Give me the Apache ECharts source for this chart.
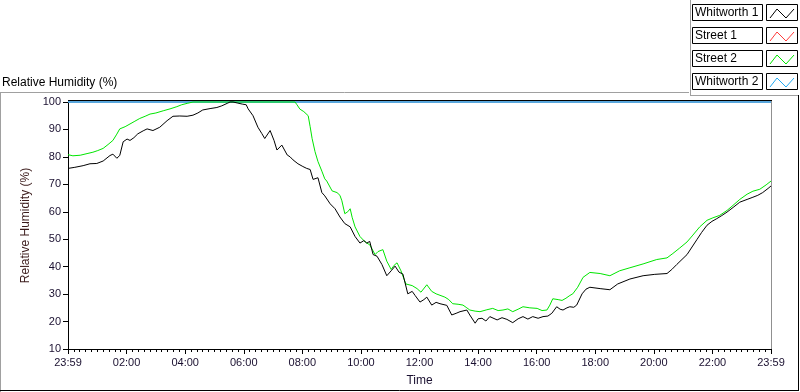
<!DOCTYPE html>
<html>
<head>
<meta charset="utf-8">
<script src="https://cdn.jsdelivr.net/npm/echarts@6/dist/echarts.min.js"></script>
<style>
    html, body { margin: 0; padding: 0; background: #fff; }
    #chart { width: 800px; height: 392px; }
</style>
</head>
<body>
<div id="chart"></div>
<script>
// 曲线名称和颜色
let seriesNames = ['Whitworth 1', 'Street 1', 'Street 2', 'Whitworth 2'];
let seriesColors = ['#000000', '#ff3b3b', '#00e600', '#22aaf2'];

// 时间: minutes after 23:59
let w1Minutes = [0, 14, 31, 45, 59, 72, 86, 92, 100, 106, 113, 121, 127, 135, 143, 154, 162, 174, 188, 203,
    215, 229, 244, 256, 266, 276, 291, 305, 315, 326, 332, 338, 348, 358, 365, 369, 379, 389, 397, 403,
    414, 422, 428, 438, 449, 455, 461, 471, 481, 489, 496, 502, 512, 520, 526, 537, 547, 557, 567, 578,
    588, 598, 606, 612, 618, 625, 633, 643, 653, 662, 670, 678, 686, 696, 705, 711, 721, 729, 735, 745,
    754, 762, 776, 786, 795, 803, 817, 823, 834, 840, 848, 856, 864, 879, 889, 899, 911, 922, 932, 942,
    952, 963, 973, 983, 991, 1001, 1008, 1014, 1022, 1028, 1036, 1042, 1053, 1061, 1069, 1090, 1110, 1126, 1151, 1178,
    1202, 1227, 1237, 1247, 1268, 1288, 1298, 1309, 1319, 1329, 1339, 1350, 1364, 1376, 1391, 1403, 1413, 1423, 1434, 1440];
let w1Values = [75.8, 76.2, 76.8, 77.5, 77.6, 78.5, 80.5, 81.0, 79.5, 80.5, 85.5, 86.5, 86.0, 87.0, 88.4, 89.5, 90.2, 89.6, 90.8, 93.2,
    94.8, 94.9, 94.8, 95.2, 96.0, 97.1, 97.6, 98.0, 98.6, 99.5, 100.0, 100.0, 99.6, 99.2, 99.0, 97.5, 95.0, 90.8, 88.5, 86.7,
    89.6, 86.0, 82.5, 84.3, 80.7, 80.0, 78.9, 77.5, 76.5, 75.8, 75.4, 71.8, 72.4, 67.0, 65.8, 62.9, 61.1, 58.1, 55.7, 54.5,
    51.0, 48.6, 49.5, 48.6, 49.2, 44.4, 43.8, 40.8, 36.7, 38.5, 40.2, 38.0, 37.3, 30.1, 31.0, 29.5, 27.1, 28.0, 28.9, 26.0,
    27.0, 26.5, 25.9, 22.4, 23.0, 23.6, 24.2, 22.4, 19.4, 21.0, 21.2, 20.2, 21.8, 20.6, 21.4, 20.8, 19.6, 21.0, 21.8, 20.9,
    21.8, 21.2, 21.8, 22.0, 23.0, 25.4, 24.5, 24.2, 25.0, 25.4, 25.2, 26.0, 30.1, 31.8, 32.5, 32.0, 31.6, 33.7, 35.5, 36.7,
    37.2, 37.5, 39.0, 40.8, 44.4, 49.8, 52.5, 55.1, 56.5, 57.5, 58.6, 59.9, 61.8, 63.5, 64.5, 65.3, 66.0, 67.0, 68.5, 69.4];

let s2Minutes = [0, 10, 25, 39, 51, 61, 72, 82, 92, 100, 106, 117, 127, 137, 147, 158, 168, 180, 195, 209,
    223, 233, 244, 256, 465, 469, 475, 483, 492, 496, 500, 506, 512, 520, 526, 530, 541, 551, 557, 561,
    567, 573, 578, 582, 588, 598, 606, 612, 618, 629, 635, 645, 653, 662, 668, 674, 682, 692, 705, 715,
    723, 735, 745, 754, 772, 780, 788, 799, 809, 817, 823, 834, 844, 858, 870, 881, 891, 901, 911, 922,
    932, 946, 961, 971, 981, 987, 993, 1004, 1012, 1020, 1028, 1034, 1044, 1055, 1069, 1090, 1110, 1130, 1151, 1178,
    1206, 1227, 1239, 1253, 1268, 1280, 1294, 1309, 1321, 1335, 1350, 1362, 1376, 1391, 1403, 1417, 1430, 1440];
let s2Values = [80.8, 80.4, 80.6, 81.2, 81.7, 82.3, 83.1, 84.5, 86.0, 88.3, 90.2, 91.0, 92.0, 93.0, 94.0, 94.8, 95.6, 96.0, 96.8, 97.5,
    98.3, 99.0, 99.5, 100.0, 100.0, 99.0, 97.4, 96.5, 95.0, 91.0, 86.7, 81.9, 78.3, 74.8, 72.0, 71.2, 67.6, 67.0, 66.0, 64.0,
    59.3, 60.0, 61.1, 58.0, 54.5, 51.0, 49.5, 48.6, 48.0, 44.4, 45.5, 46.2, 42.0, 39.0, 40.5, 41.4, 38.5, 33.7, 33.1, 32.0,
    30.7, 33.4, 31.0, 30.1, 28.9, 28.0, 26.5, 26.3, 26.0, 25.0, 24.2, 23.8, 23.6, 24.3, 24.8, 24.0, 24.2, 24.6, 23.6, 24.5,
    25.4, 25.0, 24.8, 24.0, 24.2, 26.0, 28.3, 28.0, 27.7, 28.5, 29.5, 30.1, 32.5, 36.1, 37.9, 37.5, 36.7, 38.5, 39.6, 41.0,
    42.6, 43.2, 44.8, 46.8, 49.0, 51.5, 54.5, 56.9, 57.8, 58.7, 60.5, 62.3, 64.5, 66.4, 67.5, 68.2, 69.8, 71.2];

// sensors that sat at 100 % all day
let s1Minutes = [0, 1440];
let s1Values = [100, 100];
let w2Minutes = [0, 1440];
let w2Values = [100, 100];

function toPairs(xs, ys) {
    return xs.map((x, i) => [x, ys[i]]);
}

function timeLabel(v) {
    if (v === 0 || v === 1440) return '23:59';
    let h = Math.round(v / 60);
    return (h < 10 ? '0' + h : '' + h) + ':00';
}

let chart = echarts.init(document.getElementById('chart'), null, { renderer: 'canvas' });

// legend boxes (LabVIEW style)
let legendGraphics = [];
seriesNames.forEach((name, i) => {
    let top = 4 + i * 23;
    legendGraphics.push({
        type: 'rect', shape: { x: 692.5, y: top + 0.5, width: 70, height: 16 },
        style: { fill: '#fff', stroke: '#000', lineWidth: 1 }
    });
    legendGraphics.push({
        type: 'text', x: 695, y: top + 9,
        style: { text: name, fill: '#000', font: '12px "Liberation Sans", Arial, sans-serif', verticalAlign: 'middle' }
    });
    legendGraphics.push({
        type: 'rect', shape: { x: 766.5, y: top + 0.5, width: 31, height: 16 },
        style: { fill: '#fff', stroke: '#000', lineWidth: 1 }
    });
    legendGraphics.push({
        type: 'polyline',
        shape: { points: [[770, top + 14], [777, top + 5], [786, top + 14], [794, top + 5]] },
        style: { stroke: seriesColors[i], lineWidth: 1, fill: null }
    });
});

let frameGraphics = [
    { type: 'line', shape: { x1: 0, y1: 92.5, x2: 689, y2: 92.5 }, style: { stroke: '#a0a0a0', lineWidth: 1 } },
    { type: 'line', shape: { x1: 0.5, y1: 92, x2: 0.5, y2: 392 }, style: { stroke: '#a0a0a0', lineWidth: 1 } },
    { type: 'line', shape: { x1: 690.5, y1: 0, x2: 690.5, y2: 95 }, style: { stroke: '#a0a0a0', lineWidth: 1 } },
    { type: 'line', shape: { x1: 690, y1: 95.5, x2: 798, y2: 95.5 }, style: { stroke: '#a0a0a0', lineWidth: 1 } },
    { type: 'line', shape: { x1: 798.5, y1: 95, x2: 798.5, y2: 391 }, style: { stroke: '#000', lineWidth: 1 } },
    { type: 'line', shape: { x1: 0, y1: 390.5, x2: 799, y2: 390.5 }, style: { stroke: '#000', lineWidth: 1 } },
    // plot frame: right edge grey
    { type: 'line', z: -1, shape: { x1: 771.5, y1: 101, x2: 771.5, y2: 352 }, style: { stroke: '#909090', lineWidth: 1 } },
    { type: 'line', z: -1, shape: { x1: 68, y1: 100.5, x2: 772, y2: 100.5 }, style: { stroke: '#000', lineWidth: 1 } }
];

let seriesData = [
    toPairs(w1Minutes, w1Values),
    toPairs(s1Minutes, s1Values),
    toPairs(s2Minutes, s2Values),
    toPairs(w2Minutes, w2Values)
];
// draw order: blue/red underneath, green then black on top
let seriesZ = [5, 2, 4, 3];

let option = {
    animation: false,
    backgroundColor: '#fff',
    title: {
        text: 'Relative Humidity (%)',
        left: -3, top: 72,
        textStyle: { fontSize: 12, fontWeight: 'normal', color: '#000', fontFamily: '"Liberation Sans", Arial, sans-serif' }
    },
    grid: {
        left: 68, right: 29, top: 102, bottom: 40,
        show: false
    },
    xAxis: {
        type: 'value',
        min: 0, max: 1440, interval: 120,
        name: 'Time', nameLocation: 'middle', nameGap: 26,
        nameTextStyle: { fontSize: 12, color: '#1a1030', fontFamily: '"Liberation Sans", Arial, sans-serif' },
        axisLine: { lineStyle: { color: '#000', width: 1 } },
        axisTick: { length: 5, lineStyle: { color: '#000' } },
        minorTick: { show: true, splitNumber: 10, length: 3, lineStyle: { color: '#000' } },
        axisLabel: {
            margin: 8, fontSize: 11, color: '#1a1030',
            fontFamily: '"Liberation Sans", Arial, sans-serif',
            showMinLabel: true, showMaxLabel: true,
            formatter: timeLabel
        },
        splitLine: { show: false }
    },
    yAxis: {
        type: 'value',
        min: 10, max: 100, interval: 10,
        name: 'Relative Humidity (%)', nameLocation: 'middle', nameGap: 31,
        nameTextStyle: { fontSize: 12, color: '#3a1a1a', fontFamily: '"Liberation Sans", Arial, sans-serif' },
        axisLine: { show: true, lineStyle: { color: '#000', width: 1 } },
        axisTick: { show: true, length: 5, lineStyle: { color: '#000' } },
        axisLabel: { margin: 7, fontSize: 11, color: '#1a1030', fontFamily: '"Liberation Sans", Arial, sans-serif' },
        splitLine: { show: false }
    },
    series: seriesNames.map((name, i) => ({
        name: name,
        type: 'line',
        data: seriesData[i],
        z: seriesZ[i],
        clip: false,
        showSymbol: false,
        symbol: 'none',
        lineStyle: { color: seriesColors[i], width: i === 3 ? 1.5 : 1 },
        itemStyle: { color: seriesColors[i] },
        emphasis: { disabled: true }
    })),
    graphic: frameGraphics.concat(legendGraphics)
};

chart.setOption(option);
</script>
</body>
</html>
